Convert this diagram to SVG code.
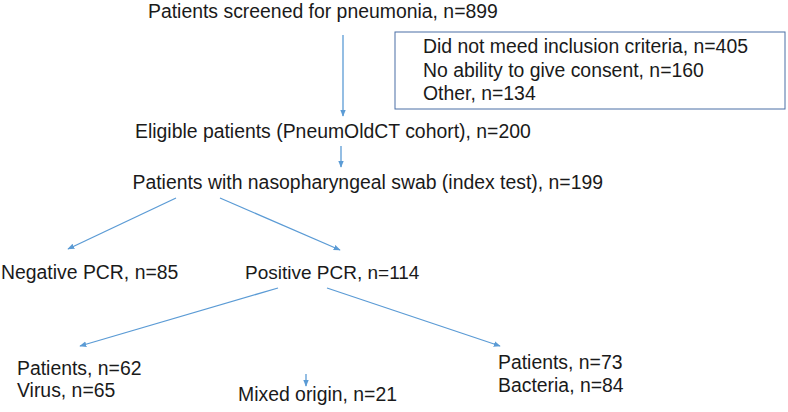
<svg xmlns="http://www.w3.org/2000/svg" width="788" height="412" viewBox="0 0 788 412">
<style>
text{font-family:"Liberation Sans",Arial,sans-serif;font-size:19.4px;fill:#1a1a1a}
.c{stroke:#5b9bd5;stroke-width:1.3;fill:none}
</style>
<defs>
<marker id="ah" viewBox="0 0 10 10" refX="9" refY="5" markerWidth="7" markerHeight="7" markerUnits="userSpaceOnUse" orient="auto">
<path d="M0,1 L10,5 L0,9 z" fill="#5b9bd5"/>
</marker>
</defs>
<rect width="788" height="412" fill="#fff"/>
<g id="screened"><text x="148" y="17.5">Patients screened for pneumonia, n=899</text></g>
<g id="excluded">
<rect x="395" y="32" width="390" height="77" fill="none" stroke="#4a6fa5" stroke-width="1"/>
<text x="423" y="53">Did not meed inclusion criteria, n=405</text>
<text x="423" y="76.5">No ability to give consent, n=160</text>
<text x="423" y="100">Other, n=134</text>
</g>
<g id="eligible"><text x="135" y="137.5">Eligible patients (PneumOldCT cohort), n=200</text></g>
<g id="swab"><text x="132.5" y="188.5">Patients with nasopharyngeal swab (index test), n=199</text></g>
<g id="negative"><text x="1" y="278.5">Negative PCR, n=85</text></g>
<g id="positive"><text x="245" y="278.5" style="font-size:19px">Positive PCR, n=114</text></g>
<g id="virus"><text x="17" y="375">Patients, n=62</text><text x="17" y="397">Virus, n=65</text></g>
<g id="mixed"><text x="238" y="401">Mixed origin, n=21</text></g>
<g id="bacteria"><text x="498" y="369">Patients, n=73</text><text x="498" y="392">Bacteria, n=84</text></g>
<g id="connectors">
<line class="c" x1="343" y1="35" x2="343" y2="116" marker-end="url(#ah)"/>
<line class="c" x1="341" y1="146" x2="341" y2="167" marker-end="url(#ah)"/>
<line class="c" x1="176" y1="198" x2="68" y2="249" marker-end="url(#ah)"/>
<line class="c" x1="220" y1="198" x2="340" y2="250" marker-end="url(#ah)"/>
<line class="c" x1="278" y1="288" x2="80" y2="346" marker-end="url(#ah)"/>
<line class="c" x1="327" y1="288" x2="500" y2="346" marker-end="url(#ah)"/>
<line class="c" x1="306" y1="374" x2="306" y2="386" marker-end="url(#ah)"/>
</g>
</svg>
